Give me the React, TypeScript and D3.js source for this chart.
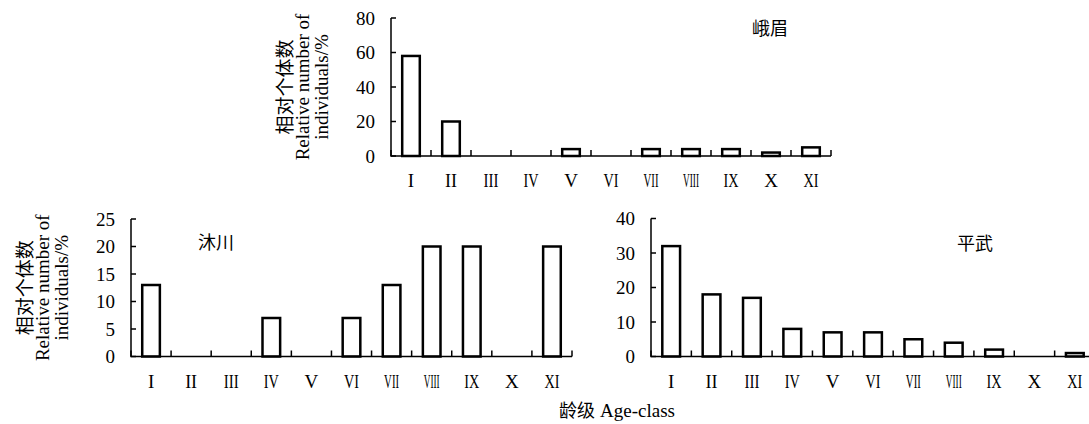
import React from "react";
import * as d3 from "d3";

const categories = ["I", "II", "III", "IV", "V", "VI", "VII", "VIII", "IX", "X", "XI"];
const emeiValues = [58, 20, 0, 0, 4, 0, 4, 4, 4, 2, 5];
const muchuanValues = [13, 0, 0, 7, 0, 7, 13, 20, 20, 0, 20];
const pingwuValues = [32, 18, 17, 8, 7, 7, 5, 4, 2, 0, 1];
const emeiTicks = [0, 20, 40, 60, 80];
const muchuanTicks = [0, 5, 10, 15, 20, 25];
const pingwuTicks = [0, 10, 20, 30, 40];
const titleLines = ["相对个体数", "Relative number of", "individuals/%"];
const xAxisTitleCn = "龄级";
const xAxisTitleEn = "Age-class";

const SERIF = "'Liberation Serif', 'Times New Roman', serif";
const CJK = "'Noto Sans CJK SC', sans-serif";

type PanelProps = {
  x0: number;
  x1: number;
  yBottom: number;
  yTop: number;
  max: number;
  ticks: number[];
  values: number[];
  name: string;
  nameX: number;
  nameY: number;
  showTitle: boolean;
};

function labelLength(s: string): number | undefined {
  if (s.length === 1) return undefined;
  if (s === "II") return 12;
  if (s.length === 2) return 15;
  if (s.length === 3) return 15;
  return 16;
}

function Panel(p: PanelProps) {
  const band = d3
    .scaleBand<string>()
    .domain(categories)
    .range([p.x0, p.x1])
    .paddingInner(0.56)
    .paddingOuter(0.28);
  const step = (p.x1 - p.x0) / categories.length;
  const y = d3.scaleLinear().domain([0, p.max]).range([p.yBottom, p.yTop]);
  const boundaries = d3.range(categories.length + 1).map((i) => p.x0 + i * step);
  const cy = (p.yTop + p.yBottom) / 2;
  const titleOffsets = [108, 89, 70];
  return (
    <g>
      {categories.map((c, i) =>
        p.values[i] > 0 ? (
          <rect
            key={c}
            x={band(c)}
            y={y(p.values[i])}
            width={band.bandwidth()}
            height={y(0) - y(p.values[i])}
            fill="#fff"
            stroke="#000"
            strokeWidth={2.5}
          />
        ) : null
      )}
      <path
        d={`M${p.x0},${p.yTop}V${p.yBottom}H${p.x1}`}
        fill="none"
        stroke="#000"
        strokeWidth={1.5}
      />
      {p.ticks.map((t) => (
        <g key={t}>
          <line x1={p.x0} x2={p.x0 + 5} y1={y(t)} y2={y(t)} stroke="#000" strokeWidth={1.5} />
          <text
            x={p.x0 - 16}
            y={y(t)}
            dy="0.35em"
            textAnchor="end"
            fontFamily={SERIF}
            fontSize={19}
          >
            {t}
          </text>
        </g>
      ))}
      {boundaries.map((b, i) => (
        <line key={i} x1={b} x2={b} y1={p.yBottom} y2={p.yBottom - 6} stroke="#000" strokeWidth={1.5} />
      ))}
      {categories.map((c) => {
        const tl = labelLength(c);
        return (
          <text
            key={c}
            x={(band(c) as number) + band.bandwidth() / 2}
            y={p.yBottom + 31}
            textAnchor="middle"
            fontFamily={SERIF}
            fontSize={19}
            {...(tl ? { textLength: tl, lengthAdjust: "spacingAndGlyphs" } : {})}
          >
            {c}
          </text>
        );
      })}
      <text x={p.nameX} y={p.nameY} textAnchor="middle" dy="0.35em" fontFamily={CJK} fontSize={18}>
        {p.name}
      </text>
      {p.showTitle &&
        titleLines.map((l, i) => (
          <text
            key={l}
            transform={`translate(${p.x0 - titleOffsets[i]},${cy}) rotate(-90)`}
            textAnchor="middle"
            dominantBaseline="central"
            fontFamily={i === 0 ? CJK : SERIF}
            fontSize={19}
          >
            {l}
          </text>
        ))}
    </g>
  );
}

export default function App() {
  return (
    <svg
      width={1089}
      height={424}
      style={{ position: "absolute", left: 0, top: 0, display: "block", background: "#fff" }}
    >
      <Panel
        x0={391}
        x1={831}
        yBottom={156}
        yTop={18}
        max={80}
        ticks={emeiTicks}
        values={emeiValues}
        name="峨眉"
        nameX={770}
        nameY={29}
        showTitle={true}
      />
      <Panel
        x0={131}
        x1={572}
        yBottom={356.5}
        yTop={219}
        max={25}
        ticks={muchuanTicks}
        values={muchuanValues}
        name="沐川"
        nameX={216}
        nameY={243}
        showTitle={true}
      />
      <Panel
        x0={651}
        x1={1095}
        yBottom={356.5}
        yTop={218.5}
        max={40}
        ticks={pingwuTicks}
        values={pingwuValues}
        name="平武"
        nameX={975}
        nameY={244}
        showTitle={false}
      />
      <text x={617} y={410} textAnchor="middle" dy="0.35em" fontSize={19}>
        <tspan fontFamily={CJK} fontSize={18}>{xAxisTitleCn}</tspan>
        <tspan fontFamily={SERIF} dx={5}>{xAxisTitleEn}</tspan>
      </text>
    </svg>
  );
}
